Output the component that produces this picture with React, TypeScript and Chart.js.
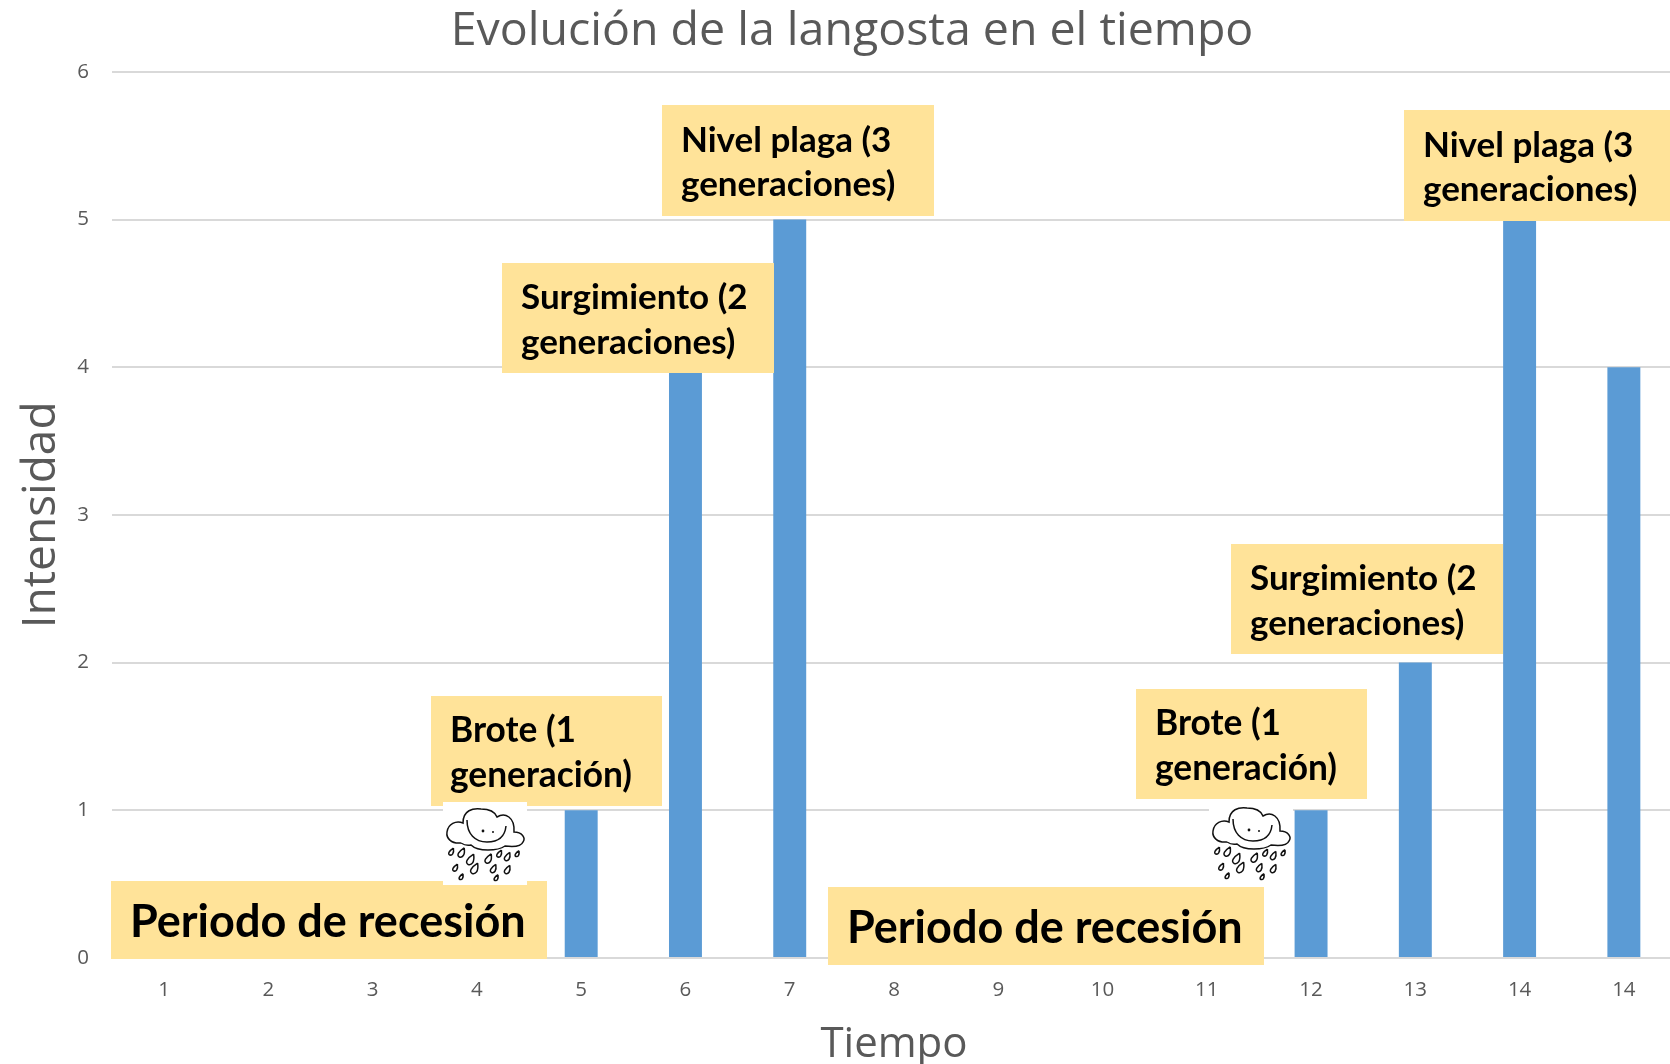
import React, { useEffect, useRef } from "react";
import { Chart, registerables } from "chart.js";

Chart.register(...registerables);

const categories = ["1", "2", "3", "4", "5", "6", "7", "8", "9", "10", "11", "12", "13", "14", "14"];
const intensidad = [0, 0, 0, 0, 1, 4, 5, 0, 0, 0, 0, 1, 2, 5, 4];
const yTicks = [0, 1, 2, 3, 4, 5, 6];

const chartTitle = "Evolución de la langosta en el tiempo";
const xTitle = "Tiempo";
const yTitle = "Intensidad";

const notes = [
  { lines: ["Periodo de recesión"], box: [111, 881, 436, 78], size: 45 },
  { lines: ["Periodo de recesión"], box: [828, 887, 436, 78], size: 45 },
  { lines: ["Brote (1", "generación)"], box: [431, 696, 231, 110], size: 35.3 },
  { lines: ["Brote (1", "generación)"], box: [1136, 689, 231, 110], size: 35.3 },
  { lines: ["Surgimiento (2", "generaciones)"], box: [502, 263, 272, 110], size: 35 },
  { lines: ["Surgimiento (2", "generaciones)"], box: [1231, 544, 272, 110], size: 35 },
  { lines: ["Nivel plaga (3", "generaciones)"], box: [662, 105, 272, 111], size: 35 },
  { lines: ["Nivel plaga (3", "generaciones)"], box: [1404, 110, 273, 111], size: 35 },
];

const clouds = [
  { x: 443, y: 802, w: 84, h: 83 },
  { x: 1209, y: 801, w: 84, h: 82 },
];

const drops = [
  [8, 50, 3], [18, 51, 4], [27, 58, 4.5], [45, 57, 4], [56, 52, 3], [64, 55, 3.5], [74, 52, 2.5],
  [12, 66, 3], [31, 67, 4.5], [50, 67, 3.5], [64, 68, 3.5], [18, 75, 2.5], [53, 76, 2.5],
];

function drawCloud(ctx: CanvasRenderingContext2D, c: { x: number; y: number; w: number; h: number }) {
  ctx.save();
  ctx.fillStyle = "#ffffff";
  ctx.fillRect(c.x, c.y, c.w, c.h);
  ctx.translate(c.x, c.y);
  ctx.strokeStyle = "#111111";
  ctx.fillStyle = "#ffffff";
  ctx.lineWidth = 1.5;
  ctx.beginPath();
  ctx.moveTo(18, 41);
  ctx.bezierCurveTo(8, 42, 3, 36, 4, 30);
  ctx.bezierCurveTo(5, 22, 13, 18, 20, 21);
  ctx.bezierCurveTo(20, 8, 30, 6, 38, 7);
  ctx.bezierCurveTo(46, 7, 52, 10, 54, 15);
  ctx.bezierCurveTo(62, 10, 72, 15, 71, 30);
  ctx.bezierCurveTo(79, 30, 83, 36, 80, 40);
  ctx.bezierCurveTo(78, 45, 70, 45, 62, 44);
  ctx.bezierCurveTo(55, 49, 35, 50, 28, 43);
  ctx.bezierCurveTo(24, 44, 21, 43, 18, 41);
  ctx.stroke();
  ctx.beginPath();
  ctx.moveTo(24, 18);
  ctx.bezierCurveTo(24, 32, 32, 40, 44, 40);
  ctx.bezierCurveTo(56, 40, 62, 34, 63, 24);
  ctx.stroke();
  ctx.fillStyle = "#111111";
  ctx.beginPath();
  ctx.arc(40, 29, 1.4, 0, Math.PI * 2);
  ctx.arc(50, 30, 1, 0, Math.PI * 2);
  ctx.fill();
  for (const [x, y, r] of drops) {
    ctx.beginPath();
    ctx.moveTo(x + r * 0.8, y - r * 1.3);
    ctx.bezierCurveTo(x + r * 1.1, y + r * 0.6, x + r * 0.3, y + r * 1.2, x - r * 0.4, y + r);
    ctx.bezierCurveTo(x - r * 1.2, y + r * 0.6, x - r * 0.6, y - r * 0.4, x + r * 0.8, y - r * 1.3);
    ctx.stroke();
  }
  ctx.restore();
}

const notesPlugin = {
  id: "notes",
  afterLayout(chart: any) {
    // the reference's title sits right of the canvas centre
    chart.titleBlock.left += 14;
    chart.titleBlock.right += 14;
  },
  afterDatasetsDraw(chart: Chart) {
    const ctx = chart.ctx;
    ctx.save();
    for (const n of notes) {
      const [x, y, w, h] = n.box;
      ctx.fillStyle = "#ffe399";
      ctx.fillRect(x, y, w, h);
      ctx.fillStyle = "#000000";
      ctx.font = `bold ${n.size}px Lato`;
      ctx.textBaseline = "middle";
      ctx.textAlign = "left";
      const lh = 44.5;
      const top = y + h / 2 - (lh * n.lines.length) / 2 + lh / 2 + 2;
      n.lines.forEach((line, i) => ctx.fillText(line, x + 19, top + i * lh));
    }
    ctx.restore();
    clouds.forEach((c) => drawCloud(ctx, c));
  },
};

export default function App() {
  const ref = useRef<HTMLCanvasElement>(null);
  useEffect(() => {
    document.body.style.margin = "0";
    const chart = new Chart(ref.current!, {
      type: "bar",
      data: {
        labels: categories,
        datasets: [
          {
            label: "Intensidad",
            data: intensidad,
            backgroundColor: "#5b9bd5",
            barPercentage: 1,
            categoryPercentage: 0.316,
          },
        ],
      },
      options: {
        responsive: false,
        animation: false,
        layout: { padding: 0 },
        plugins: {
          legend: { display: false },
          tooltip: { enabled: false },
          title: {
            display: true,
            text: chartTitle,
            color: "#595959",
            font: { family: "'Open Sans'", size: 46.5, weight: "normal" },
            padding: { top: 4, bottom: 12 },
          },
        },
        scales: {
          x: {
            afterFit: (s: any) => {
              s.height = 106;
            },
            grid: { display: false },
            border: { color: "#d9d9d9", width: 2 },
            ticks: { color: "#595959", font: { family: "'Open Sans'", size: 20.5 }, padding: 12, maxRotation: 0, autoSkip: false },
            title: {
              display: true,
              text: xTitle,
              color: "#595959",
              font: { family: "'Open Sans'", size: 42, weight: "normal" },
              padding: { top: 1, bottom: -6 },
            },
          },
          y: {
            min: 0,
            max: 6,
            afterFit: (s: any) => {
              s.width = 112;
            },
            afterBuildTicks: (s: any) => {
              s.ticks = yTicks.map((value) => ({ value }));
            },
            grid: { color: "#d9d9d9", lineWidth: 2, drawTicks: false },
            border: { display: false },
            ticks: { color: "#595959", font: { family: "'Open Sans'", size: 20.5 }, padding: 23 },
            title: {
              display: true,
              text: yTitle,
              color: "#595959",
              font: { family: "'Open Sans'", size: 46, weight: "normal" },
              padding: { top: 14, bottom: 0 },
            },
          },
        },
      },
      plugins: [notesPlugin],
    } as any);
    return () => chart.destroy();
  }, []);
  return (
    <div style={{ position: "absolute", left: 0, top: 0, width: 1670, height: 1064, overflow: "hidden", background: "#fff" }}>
      <canvas ref={ref} width={1676} height={1064} style={{ display: "block" }} />
    </div>
  );
}
